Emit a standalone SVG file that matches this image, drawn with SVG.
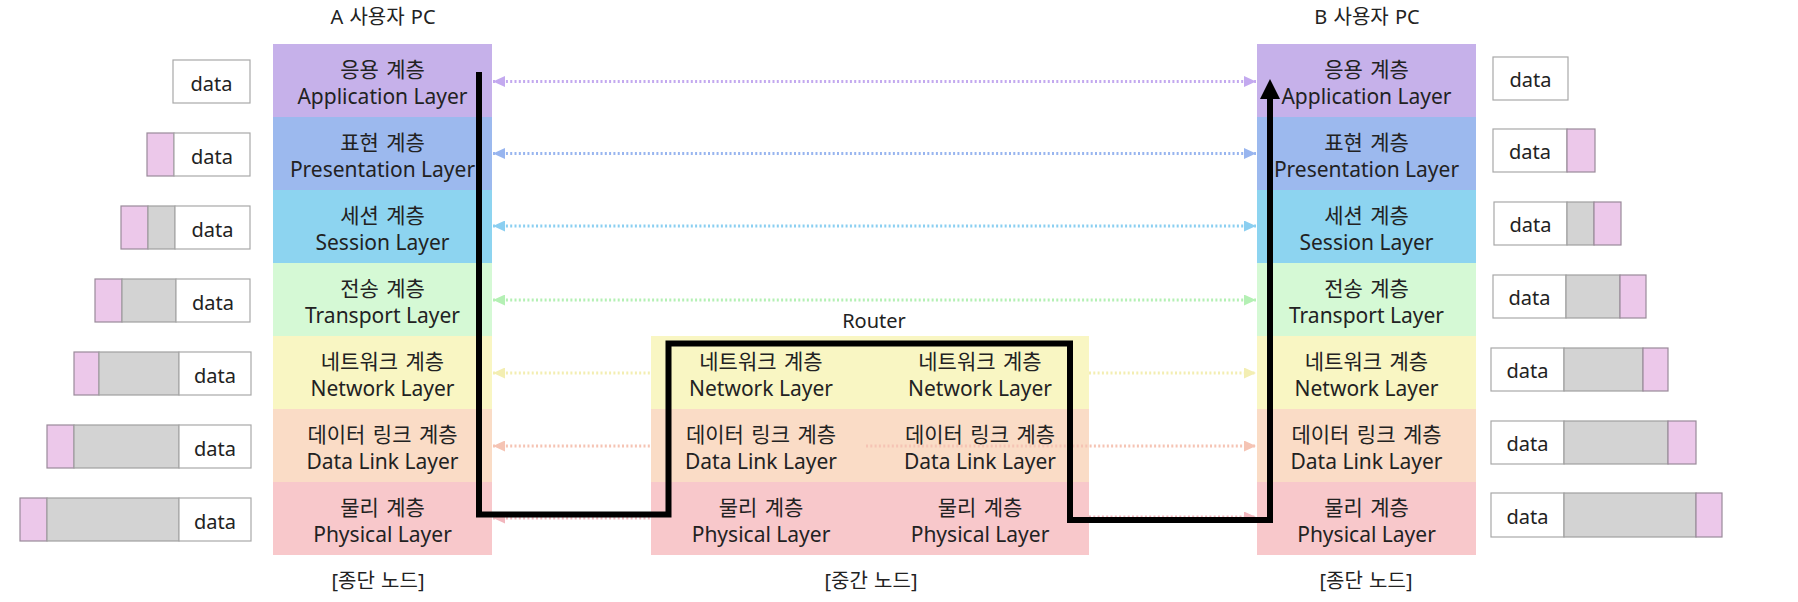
<svg xmlns="http://www.w3.org/2000/svg" width="1798" height="602" viewBox="0 0 1798 602">
<style>
text { font-family: "Noto Sans", "Noto Sans CJK KR", sans-serif; fill: #222222; text-anchor: middle; }
.ko { font-size: 21px; word-spacing: 2px; }
.en { font-size: 21px; }
.ttl { font-size: 20px; word-spacing: 1px; }
.dt { font-size: 20px; }
.app { fill: #c6b1ea; } .pre { fill: #9cb9ee; } .ses { fill: #8dd4f0; } .tra { fill: #d5f9d5; }
.net { fill: #f9f6c3; } .dl { fill: #fadcc6; } .phy { fill: #f8c8cb; }
.w { fill: #ffffff; stroke: #a8a8a8; stroke-width: 1.2; }
.g { fill: #d3d3d3; stroke: #a0a0a0; stroke-width: 1.2; }
.p { fill: #ecc8ea; stroke: #9a8a9a; stroke-width: 1.2; }
.dot { fill: none; stroke-width: 3; stroke-dasharray: 2 2.3; }
.blk { fill: none; stroke: #000; stroke-width: 6; stroke-linejoin: miter; }
</style>
<defs>
<marker id="m1" viewBox="0 0 12 11" refX="12" refY="5.5" markerWidth="12" markerHeight="11" markerUnits="userSpaceOnUse" orient="auto-start-reverse"><path d="M0,0 L12,5.5 L0,11 Z" fill="#c3a9ef"/></marker>
<marker id="m2" viewBox="0 0 12 11" refX="12" refY="5.5" markerWidth="12" markerHeight="11" markerUnits="userSpaceOnUse" orient="auto-start-reverse"><path d="M0,0 L12,5.5 L0,11 Z" fill="#98b5ef"/></marker>
<marker id="m3" viewBox="0 0 12 11" refX="12" refY="5.5" markerWidth="12" markerHeight="11" markerUnits="userSpaceOnUse" orient="auto-start-reverse"><path d="M0,0 L12,5.5 L0,11 Z" fill="#8bcff1"/></marker>
<marker id="m4" viewBox="0 0 12 11" refX="12" refY="5.5" markerWidth="12" markerHeight="11" markerUnits="userSpaceOnUse" orient="auto-start-reverse"><path d="M0,0 L12,5.5 L0,11 Z" fill="#b4f0b4"/></marker>
<marker id="m5" viewBox="0 0 12 11" refX="12" refY="5.5" markerWidth="12" markerHeight="11" markerUnits="userSpaceOnUse" orient="auto-start-reverse"><path d="M0,0 L12,5.5 L0,11 Z" fill="#f3eeb2"/></marker>
<marker id="m6" viewBox="0 0 12 11" refX="12" refY="5.5" markerWidth="12" markerHeight="11" markerUnits="userSpaceOnUse" orient="auto-start-reverse"><path d="M0,0 L12,5.5 L0,11 Z" fill="#f5c4b4"/></marker>
<marker id="m7" viewBox="0 0 12 11" refX="12" refY="5.5" markerWidth="12" markerHeight="11" markerUnits="userSpaceOnUse" orient="auto-start-reverse"><path d="M0,0 L12,5.5 L0,11 Z" fill="#f2b6bd"/></marker>
<marker id="mb" viewBox="0 0 20 20" refX="2" refY="10" markerWidth="20" markerHeight="20" markerUnits="userSpaceOnUse" orient="auto"><path d="M0,0 L20,10 L0,20 Z" fill="#000"/></marker>
</defs>
<rect width="1798" height="602" fill="#ffffff"/>

<g id="titles">
<text class="ttl" x="383" y="24">A 사용자 PC</text>
<text class="ttl" x="1367" y="24">B 사용자 PC</text>
<text class="ttl" x="874" y="328">Router</text>
<text class="ttl" x="378" y="588">[종단 노드]</text>
<text class="ttl" x="871" y="588">[중간 노드]</text>
<text class="ttl" x="1366" y="588">[종단 노드]</text>
</g>

<g id="nodeA">
<rect class="app" x="273" y="44" width="219" height="73"/>
<rect class="pre" x="273" y="117" width="219" height="73"/>
<rect class="ses" x="273" y="190" width="219" height="73"/>
<rect class="tra" x="273" y="263" width="219" height="73"/>
<rect class="net" x="273" y="336" width="219" height="73"/>
<rect class="dl" x="273" y="409" width="219" height="73"/>
<rect class="phy" x="273" y="482" width="219" height="73"/>
<text class="ko" x="382.5" y="77">응용 계층</text><text class="en" x="382.5" y="103.5">Application Layer</text>
<text class="ko" x="382.5" y="150">표현 계층</text><text class="en" x="382.5" y="176.5">Presentation Layer</text>
<text class="ko" x="382.5" y="223">세션 계층</text><text class="en" x="382.5" y="249.5">Session Layer</text>
<text class="ko" x="382.5" y="296">전송 계층</text><text class="en" x="382.5" y="322.5">Transport Layer</text>
<text class="ko" x="382.5" y="369">네트워크 계층</text><text class="en" x="382.5" y="395.5">Network Layer</text>
<text class="ko" x="382.5" y="442">데이터 링크 계층</text><text class="en" x="382.5" y="468.5">Data Link Layer</text>
<text class="ko" x="382.5" y="515">물리 계층</text><text class="en" x="382.5" y="541.5">Physical Layer</text>
</g>

<g id="nodeB">
<rect class="app" x="1257" y="44" width="219" height="73"/>
<rect class="pre" x="1257" y="117" width="219" height="73"/>
<rect class="ses" x="1257" y="190" width="219" height="73"/>
<rect class="tra" x="1257" y="263" width="219" height="73"/>
<rect class="net" x="1257" y="336" width="219" height="73"/>
<rect class="dl" x="1257" y="409" width="219" height="73"/>
<rect class="phy" x="1257" y="482" width="219" height="73"/>
<text class="ko" x="1366.5" y="77">응용 계층</text><text class="en" x="1366.5" y="103.5">Application Layer</text>
<text class="ko" x="1366.5" y="150">표현 계층</text><text class="en" x="1366.5" y="176.5">Presentation Layer</text>
<text class="ko" x="1366.5" y="223">세션 계층</text><text class="en" x="1366.5" y="249.5">Session Layer</text>
<text class="ko" x="1366.5" y="296">전송 계층</text><text class="en" x="1366.5" y="322.5">Transport Layer</text>
<text class="ko" x="1366.5" y="369">네트워크 계층</text><text class="en" x="1366.5" y="395.5">Network Layer</text>
<text class="ko" x="1366.5" y="442">데이터 링크 계층</text><text class="en" x="1366.5" y="468.5">Data Link Layer</text>
<text class="ko" x="1366.5" y="515">물리 계층</text><text class="en" x="1366.5" y="541.5">Physical Layer</text>
</g>

<g id="router">
<rect class="net" x="651" y="336" width="220" height="73"/>
<rect class="dl" x="651" y="409" width="220" height="73"/>
<rect class="phy" x="651" y="482" width="220" height="73"/>
<rect class="net" x="871" y="336" width="218" height="73"/>
<rect class="dl" x="871" y="409" width="218" height="73"/>
<rect class="phy" x="871" y="482" width="218" height="73"/>
<text class="ko" x="761" y="369">네트워크 계층</text><text class="en" x="761" y="395.5">Network Layer</text>
<text class="ko" x="761" y="442">데이터 링크 계층</text><text class="en" x="761" y="468.5">Data Link Layer</text>
<text class="ko" x="761" y="515">물리 계층</text><text class="en" x="761" y="541.5">Physical Layer</text>
<text class="ko" x="980" y="369">네트워크 계층</text><text class="en" x="980" y="395.5">Network Layer</text>
<text class="ko" x="980" y="442">데이터 링크 계층</text><text class="en" x="980" y="468.5">Data Link Layer</text>
<text class="ko" x="980" y="515">물리 계층</text><text class="en" x="980" y="541.5">Physical Layer</text>
</g>

<g id="dataA1"><rect class="w" x="173" y="60" width="77" height="43"/><text class="dt" x="211.5" y="91">data</text></g>
<g id="dataA2"><rect class="p" x="147" y="133" width="27" height="43"/><rect class="w" x="174" y="133" width="76" height="43"/><text class="dt" x="212" y="164">data</text></g>
<g id="dataA3"><rect class="p" x="121" y="206" width="27" height="43"/><rect class="g" x="148" y="206" width="27" height="43"/><rect class="w" x="175" y="206" width="75" height="43"/><text class="dt" x="212.5" y="237">data</text></g>
<g id="dataA4"><rect class="p" x="95" y="279" width="27" height="43"/><rect class="g" x="122" y="279" width="54" height="43"/><rect class="w" x="176" y="279" width="74" height="43"/><text class="dt" x="213" y="310">data</text></g>
<g id="dataA5"><rect class="p" x="74" y="352" width="25" height="43"/><rect class="g" x="99" y="352" width="80" height="43"/><rect class="w" x="179" y="352" width="72" height="43"/><text class="dt" x="215" y="383">data</text></g>
<g id="dataA6"><rect class="p" x="47" y="425" width="27" height="43"/><rect class="g" x="74" y="425" width="105" height="43"/><rect class="w" x="179" y="425" width="72" height="43"/><text class="dt" x="215" y="456">data</text></g>
<g id="dataA7"><rect class="p" x="20" y="498" width="27" height="43"/><rect class="g" x="47" y="498" width="132" height="43"/><rect class="w" x="179" y="498" width="72" height="43"/><text class="dt" x="215" y="529">data</text></g>

<g id="dataB1"><rect class="w" x="1493" y="57" width="75" height="43"/><text class="dt" x="1530.5" y="87">data</text></g>
<g id="dataB2"><rect class="w" x="1493" y="129" width="74" height="43"/><rect class="p" x="1567" y="129" width="28" height="43"/><text class="dt" x="1530" y="159">data</text></g>
<g id="dataB3"><rect class="w" x="1494" y="202" width="73" height="43"/><rect class="g" x="1567" y="202" width="27" height="43"/><rect class="p" x="1594" y="202" width="27" height="43"/><text class="dt" x="1530.5" y="232">data</text></g>
<g id="dataB4"><rect class="w" x="1493" y="275" width="73" height="43"/><rect class="g" x="1566" y="275" width="54" height="43"/><rect class="p" x="1620" y="275" width="26" height="43"/><text class="dt" x="1529.5" y="305">data</text></g>
<g id="dataB5"><rect class="w" x="1491" y="348" width="73" height="43"/><rect class="g" x="1564" y="348" width="79" height="43"/><rect class="p" x="1643" y="348" width="25" height="43"/><text class="dt" x="1527.5" y="378">data</text></g>
<g id="dataB6"><rect class="w" x="1491" y="421" width="73" height="43"/><rect class="g" x="1564" y="421" width="104" height="43"/><rect class="p" x="1668" y="421" width="28" height="43"/><text class="dt" x="1527.5" y="451">data</text></g>
<g id="dataB7"><rect class="w" x="1491" y="493" width="73" height="44"/><rect class="g" x="1564" y="493" width="132" height="44"/><rect class="p" x="1696" y="493" width="26" height="44"/><text class="dt" x="1527.5" y="524">data</text></g>

<g id="connectors">
<line class="dot" x1="493" y1="81.5" x2="1256" y2="81.5" stroke="#c3a9ef" marker-start="url(#m1)" marker-end="url(#m1)"/>
<line class="dot" x1="493" y1="153.5" x2="1256" y2="153.5" stroke="#98b5ef" marker-start="url(#m2)" marker-end="url(#m2)"/>
<line class="dot" x1="493" y1="226" x2="1256" y2="226" stroke="#8bcff1" marker-start="url(#m3)" marker-end="url(#m3)"/>
<line class="dot" x1="493" y1="300" x2="1256" y2="300" stroke="#b4f0b4" marker-start="url(#m4)" marker-end="url(#m4)"/>
<line class="dot" x1="493" y1="373" x2="651" y2="373" stroke="#f3eeb2" marker-start="url(#m5)"/>
<line class="dot" x1="1089" y1="373" x2="1256" y2="373" stroke="#f3eeb2" marker-end="url(#m5)"/>
<line class="dot" x1="493" y1="446" x2="651" y2="446" stroke="#f5c4b4" marker-start="url(#m6)"/>
<line class="dot" x1="866" y1="446" x2="1256" y2="446" stroke="#f5c4b4" marker-end="url(#m6)"/>
<line class="dot" x1="493" y1="518" x2="651" y2="518" stroke="#f2b6bd" marker-start="url(#m7)"/>
<line class="dot" x1="1089" y1="517" x2="1256" y2="517" stroke="#f2b6bd" marker-end="url(#m7)"/>
<path class="blk" d="M479,72 V514.5 H668.5 V343.5 H1070 V520 H1270 V97" marker-end="url(#mb)"/>
</g>
</svg>
